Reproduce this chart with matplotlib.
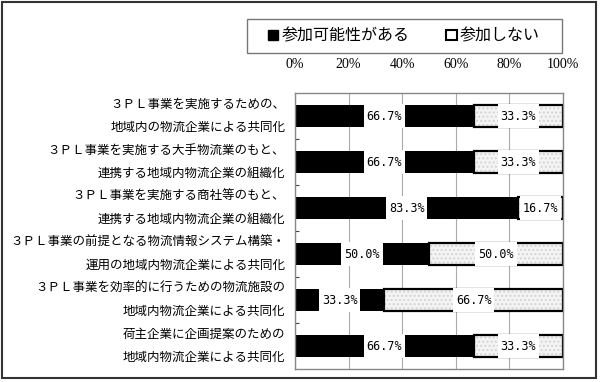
import matplotlib
matplotlib.use("Agg")
import matplotlib.pyplot as plt
from matplotlib.patches import Patch, Rectangle
from matplotlib.font_manager import FontProperties

categories = [
    "３ＰＬ事業を実施するための、\n地域内の物流企業による共同化",
    "３ＰＬ事業を実施する大手物流業のもと、\n連携する地域内物流企業の組織化",
    "３ＰＬ事業を実施する商社等のもと、\n連携する地域内物流企業の組織化",
    "３ＰＬ事業の前提となる物流情報システム構築・\n運用の地域内物流企業による共同化",
    "３ＰＬ事業を効率的に行うための物流施設の\n地域内物流企業による共同化",
    "荷主企業に企画提案のための\n地域内物流企業による共同化",
]
participate = [66.7, 66.7, 83.3, 50.0, 33.3, 66.7]
not_participate = [33.3, 33.3, 16.7, 50.0, 66.7, 33.3]
series_names = ["参加可能性がある", "参加しない"]
xticks = [0, 20, 40, 60, 80, 100]
xtick_labels = ["0%", "20%", "40%", "60%", "80%", "100%"]

W, H = 600, 382
fig = plt.figure(figsize=(W / 100, H / 100), dpi=100)
ax = fig.add_axes([295 / W, 1 - 369 / H, (563 - 295) / W, (369 - 93) / H])

ypos = list(range(len(categories)))
bh = 0.46
lbl_w = 15.3

# black segments
ax.barh(ypos, participate, height=bh, color="black", zorder=2)
# dotted segments
ax.barh(ypos, not_participate, left=participate, height=bh, color="#f4f4f4",
        hatch="....", edgecolor="#d4d4d4", linewidth=0, zorder=2)
ax.barh(ypos, not_participate, left=participate, height=bh, fill=False,
        edgecolor="black", linewidth=1.6, zorder=2.5)

# value labels with white boxes
mono = FontProperties(family="DejaVu Sans Mono", size=8.5)
for y, a, b in zip(ypos, participate, not_participate):
    for left, val in ((0, a), (a, b)):
        c = left + val / 2
        ax.barh(y, lbl_w, left=c - lbl_w / 2, height=bh + 0.08, color="white",
                linewidth=0, zorder=3)
        ax.text(c, y, f"{val:.1f}%", ha="center", va="center",
                fontproperties=mono, zorder=4)

ax.set_xlim(0, 100)
ax.set_ylim(len(categories) - 0.5, -0.5)
ax.set_xticks(xticks)
ax.set_xticklabels(xtick_labels, fontfamily="Liberation Serif", fontsize=10)
ax.xaxis.tick_top()
ax.tick_params(axis="x", length=0, pad=16)
ax.grid(axis="x", color="#aaaaaa", linewidth=0.8, zorder=0)
ax.set_axisbelow(True)

ax.set_yticks(ypos)
ax.set_yticklabels(categories, fontfamily="Noto Sans CJK JP", fontsize=9,
                   linespacing=2.0, va="center")
ax.tick_params(axis="y", length=0, pad=7)
ax.set_yticks([i + 0.5 for i in ypos[:-1]], minor=True)
ax.tick_params(axis="y", which="minor", length=3, direction="in",
               color="#444444", width=0.8)
for s in ax.spines.values():
    s.set_color("#888888")
    s.set_linewidth(1.0)

# legend frame + legend
fig.patches.append(Rectangle((247 / W, 1 - 53 / H), (562 - 247) / W, 34 / H,
                             transform=fig.transFigure, fill=False,
                             edgecolor="#777777", linewidth=1.0))
handles = [Patch(facecolor="black", edgecolor="black"),
           Patch(facecolor="white", edgecolor="black", linewidth=1.5)]
fig.legend(handles, series_names, loc="center",
           bbox_to_anchor=(404 / W, 1 - 36 / H), ncol=2, frameon=False,
           handlelength=0.65, handleheight=0.65, handletextpad=0.2,
           columnspacing=2.3,
           prop=FontProperties(family="Noto Sans CJK JP", size=11.5))

# outer frame
fig.patches.append(Rectangle((2 / W, 1 - 378 / H), 594 / W, 376 / H,
                             transform=fig.transFigure, fill=False,
                             edgecolor="#333333", linewidth=1.5))

fig.savefig("out.png", dpi=100)
